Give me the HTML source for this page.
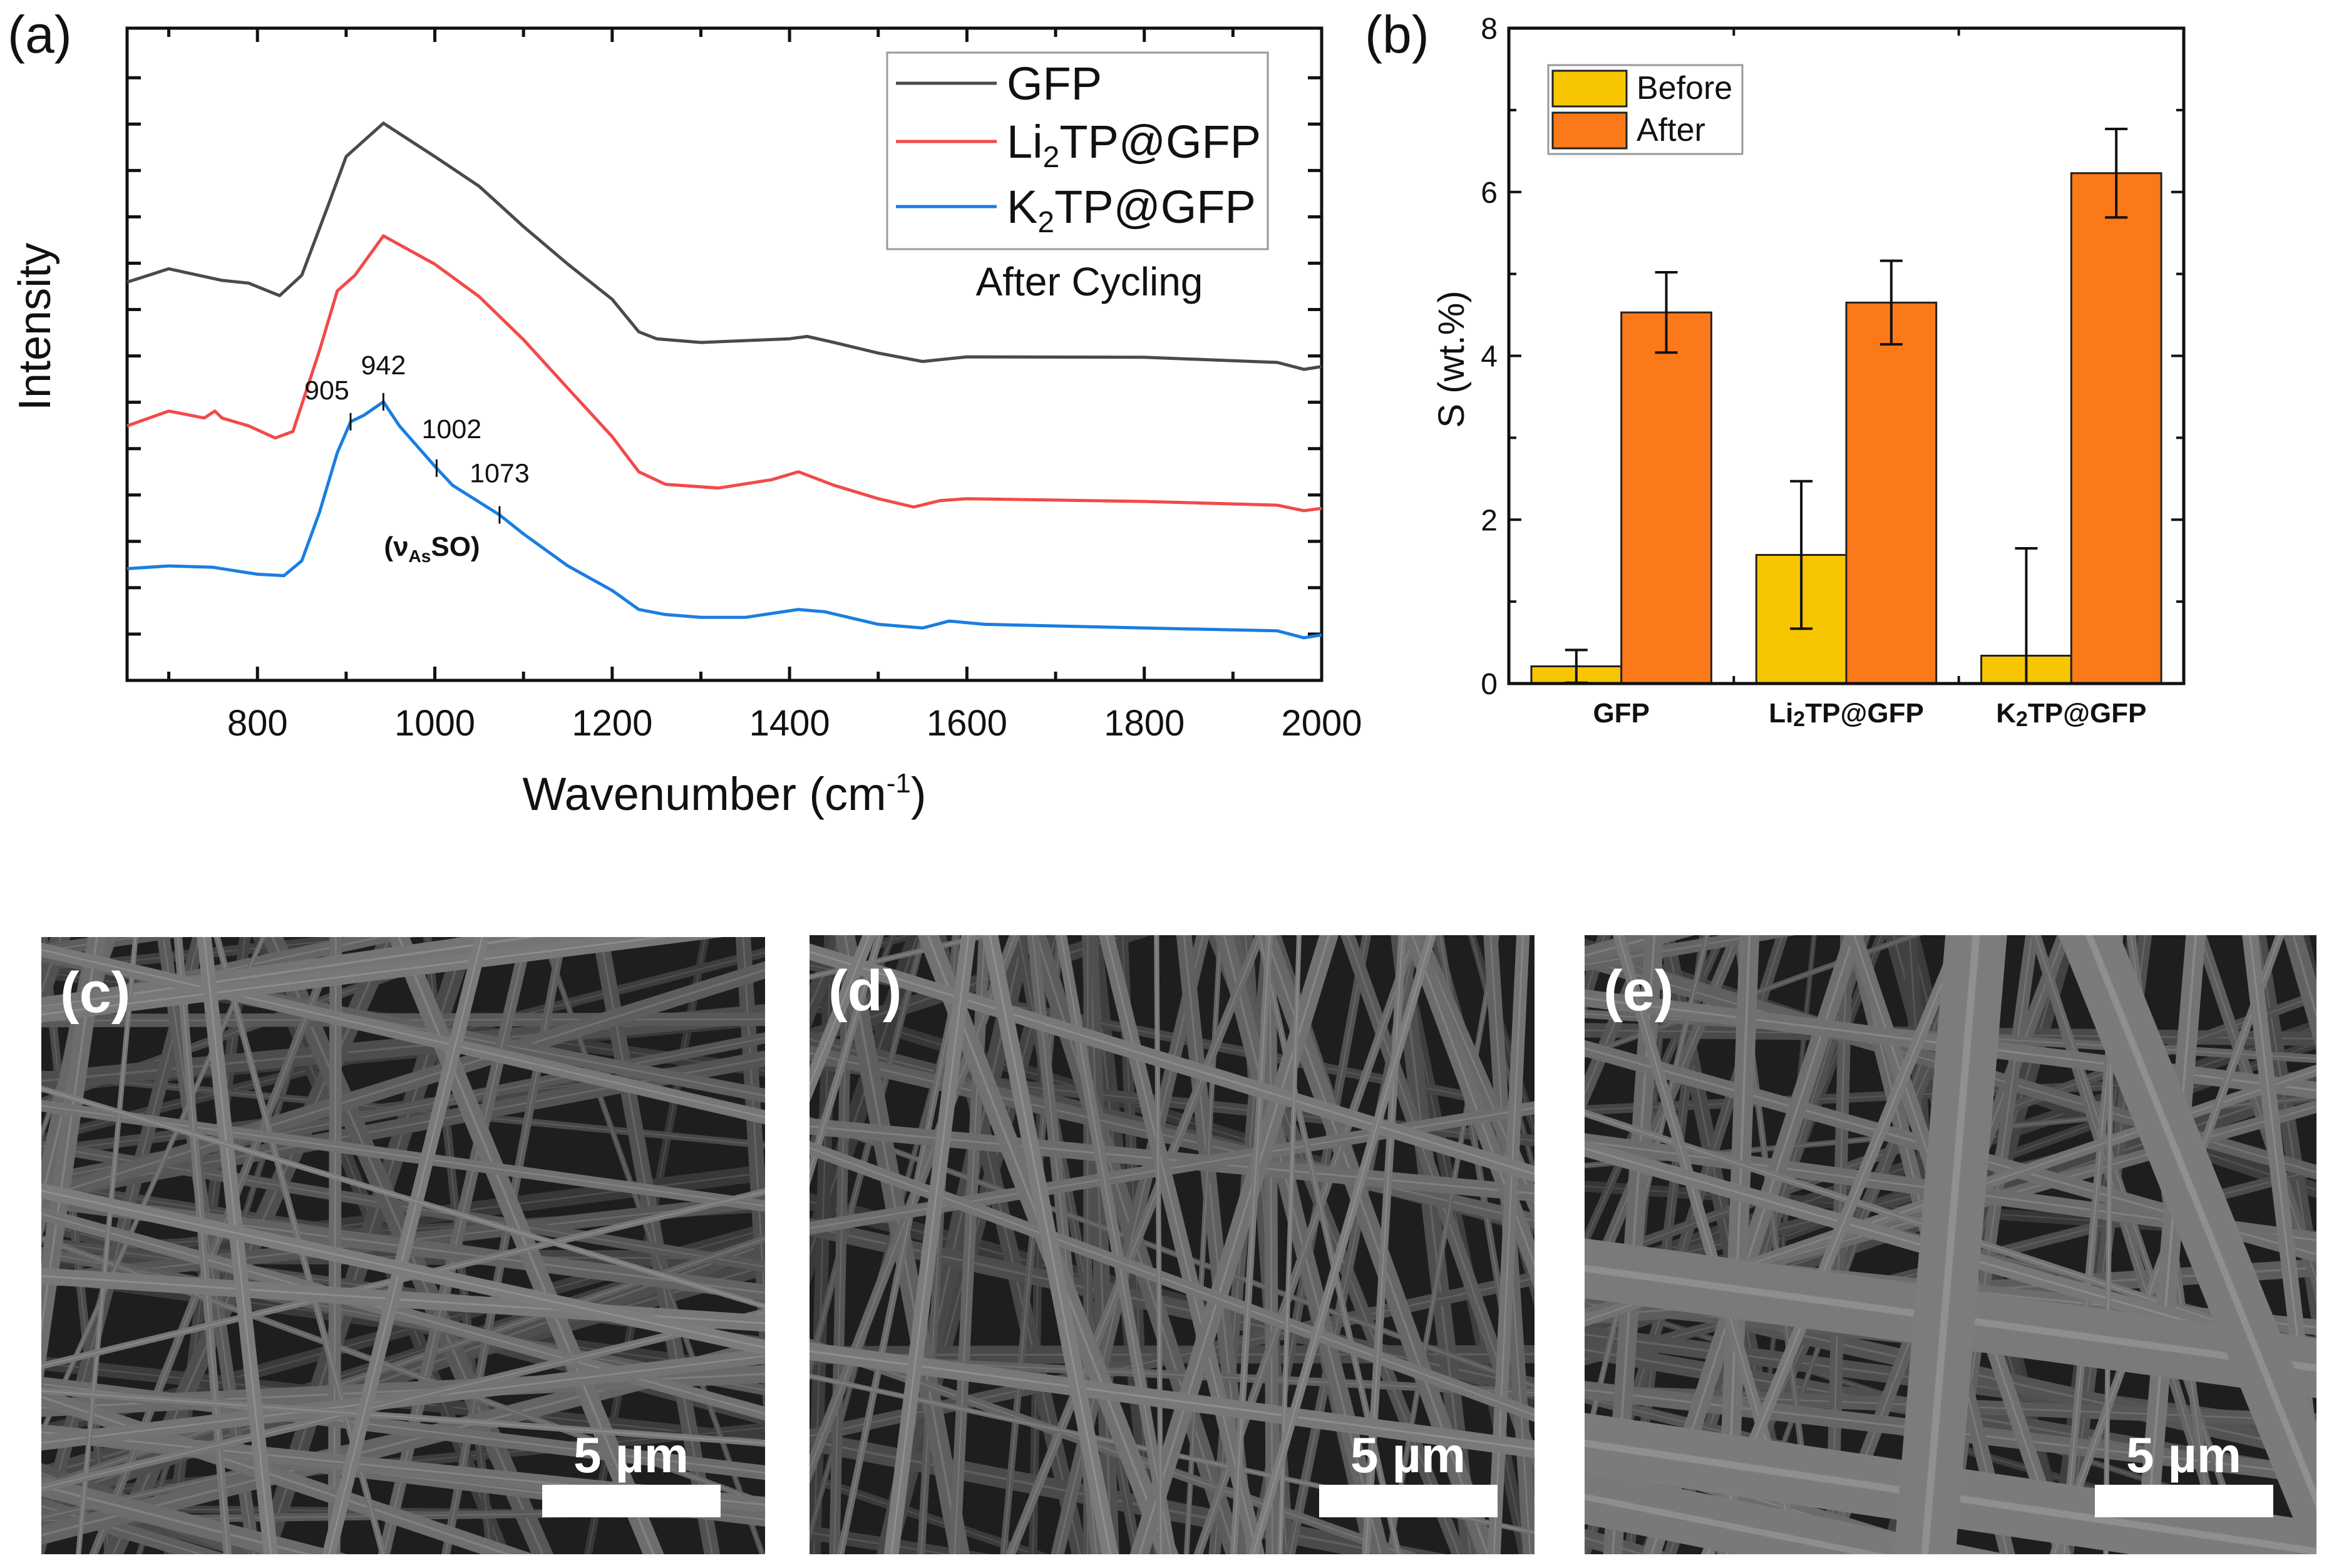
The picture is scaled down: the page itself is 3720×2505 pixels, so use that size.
<!DOCTYPE html>
<html><head><meta charset="utf-8">
<style>
html,body{margin:0;padding:0;background:#fff;overflow:hidden;}
body{width:3720px;height:2505px;position:relative;overflow:hidden;font-family:"Liberation Sans",sans-serif;}
svg{position:absolute;left:0;top:0;overflow:hidden;}
</style></head>
<body>
<svg id="fig" width="3720" height="2505" viewBox="0 0 3720 2505" xmlns="http://www.w3.org/2000/svg">
  <g id="pa"></g>
  <g id="pb"></g>
  <g id="sem"></g>
</svg>
<script>
// ---------- Panel (a) data ----------
const wn = [653,700,760,790,825,850,880,900,942,1000,1050,1100,1150,1200,1230,1250,1300,1400,1420,1450,1500,1550,1600,1800,1950,1980,2000];
const gfpI = [8.59,8.88,8.63,8.57,8.30,8.74,10.26,11.30,12.02,11.30,10.66,9.79,8.98,8.22,7.52,7.37,7.29,7.37,7.42,7.29,7.06,6.88,6.98,6.97,6.86,6.71,6.77];
const wnLi = [653,700,740,752,760,790,820,840,870,890,910,942,1000,1050,1100,1150,1200,1230,1260,1320,1380,1410,1450,1500,1540,1570,1600,1800,1950,1980,2000];
const liI = [5.49,5.81,5.66,5.81,5.66,5.49,5.23,5.37,7.12,8.40,8.74,9.59,8.98,8.28,7.35,6.30,5.26,4.50,4.23,4.15,4.33,4.50,4.21,3.92,3.74,3.88,3.92,3.86,3.78,3.66,3.71];
const wnK = [653,700,750,780,800,830,850,870,890,905,920,942,960,1000,1020,1073,1100,1150,1200,1230,1260,1300,1350,1410,1440,1500,1550,1580,1620,1800,1950,1980,2000];
const kI = [2.41,2.47,2.44,2.35,2.29,2.26,2.58,3.63,4.91,5.58,5.72,6.01,5.49,4.62,4.21,3.57,3.16,2.47,1.94,1.53,1.42,1.36,1.36,1.53,1.48,1.21,1.13,1.28,1.21,1.13,1.07,0.92,0.98];
const peakWn = [905,942,1002,1073];
const xTicks = [800,1000,1200,1400,1600,1800,2000];

// ---------- Panel (b) data ----------
const cats = ["GFP","Li2TP@GFP","K2TP@GFP"];
const before = [0.21,1.57,0.34];
const beforeErr = [0.20,0.90,1.31];
const after = [4.53,4.65,6.23];
const afterErr = [0.49,0.51,0.54];
const bTicks = [0,2,4,6,8];

const NS="http://www.w3.org/2000/svg";
function mk(parent,tag,attrs,text){const e=document.createElementNS(NS,tag);for(const k in attrs)e.setAttribute(k,attrs[k]);if(text!==undefined)e.textContent=text;parent.appendChild(e);return e;}

// ===== Panel a =====
const pa=document.getElementById('pa');
const A={l:203,r:2111,t:45,b:1087,x0:653,x1:2000,y0:0,y1:14.07};
const ax=v=>A.l+(v-A.x0)/(A.x1-A.x0)*(A.r-A.l);
const ay=v=>A.b-(v-A.y0)/(A.y1-A.y0)*(A.b-A.t);
let fr=mk(pa,'rect',{x:A.l,y:A.t,width:A.r-A.l,height:A.b-A.t,fill:'none',stroke:'#111','stroke-width':5});

for(let v=700;v<=2000;v+=100){
  const x=ax(v);const L=v%200===0?22:14;
  let t1=mk(pa,'line',{x1:x,y1:A.b,x2:x,y2:A.b-L,stroke:'#111','stroke-width':5});
  
  let t2=mk(pa,'line',{x1:x,y1:A.t,x2:x,y2:A.t+L,stroke:'#111','stroke-width':5});
  
}
xTicks.forEach(v=>{let t=mk(pa,'text',{x:ax(v),y:1175,'font-size':58,'text-anchor':'middle',fill:'#111'},String(v));
  });
for(let v=1;v<=13;v++){
  const y=ay(v);
  let t1=mk(pa,'line',{x1:A.l,y1:y,x2:A.l+22,y2:y,stroke:'#111','stroke-width':5});
  
  let t2=mk(pa,'line',{x1:A.r,y1:y,x2:A.r-22,y2:y,stroke:'#111','stroke-width':5});
  
}
function curve(xs,ys,color,name){
  let d=xs.map((x,i)=>(i?'L':'M')+ax(x).toFixed(1)+','+ay(ys[i]).toFixed(1)).join(' ');
  let p=mk(pa,'path',{d:d,fill:'none',stroke:color,'stroke-width':5,'stroke-linejoin':'round'});
  
}
curve(wn,gfpI,'#4a4a4a','gfp-spectrum');
curve(wnLi,liI,'#f24a4a','li2tp-spectrum');
curve(wnK,kI,'#1a7ee0','k2tp-spectrum');
function interp(xs,ys,x){for(let i=1;i<xs.length;i++){if(x<=xs[i]){const f=(x-xs[i-1])/(xs[i]-xs[i-1]);return ys[i-1]+f*(ys[i]-ys[i-1]);}}return ys[ys.length-1];}
const lblOff=[[-38,-36],[0,-44],[24,-48],[0,-52]];
peakWn.forEach((w,i)=>{
  const x=ax(w),y=ay(interp(wnK,kI,w));
  let m=mk(pa,'line',{x1:x,y1:y-14,x2:x,y2:y+14,stroke:'#111','stroke-width':3});
  
  let t=mk(pa,'text',{x:x+lblOff[i][0],y:y+lblOff[i][1],'font-size':43,'text-anchor':'middle',fill:'#111'},String(w));
  
});
let nu=mk(pa,'text',{x:690,y:888,'font-size':44,'font-weight':'bold','text-anchor':'middle',fill:'#111'});

nu.innerHTML='(ν<tspan font-size="28" dy="10">As</tspan><tspan dy="-10">SO)</tspan>';
let xt=mk(pa,'text',{x:1157,y:1294,'font-size':74,'text-anchor':'middle',fill:'#111'});

xt.innerHTML='Wavenumber (cm<tspan font-size="44" dy="-28">-1</tspan><tspan dy="28">)</tspan>';
let yt=mk(pa,'text',{x:0,y:0,'font-size':72,'text-anchor':'middle',fill:'#111',transform:'translate(80,522) rotate(-90)'},'Intensity');

let la=mk(pa,'text',{x:12,y:84,'font-size':84,fill:'#111'},'(a)');

let lg=mk(pa,'g',{});
mk(lg,'rect',{x:1417,y:84,width:608,height:314,fill:'#fff',stroke:'#999','stroke-width':3});
[['GFP','#4a4a4a',133],['Li|2|TP@GFP','#f24a4a',226],['K|2|TP@GFP','#1a7ee0',330]].forEach(([s,c,y])=>{
  let g=mk(lg,'g',{});
  mk(g,'line',{x1:1431,y1:y,x2:1592,y2:y,stroke:c,'stroke-width':5});
  const t=mk(g,'text',{x:1608,y:y+26,'font-size':74,fill:'#111'});
  const p=s.split('|');
  t.innerHTML=p.length>1?p[0]+'<tspan font-size="48" dy="15">'+p[1]+'</tspan><tspan dy="-15">'+p[2]+'</tspan>':s;
});
let ac=mk(pa,'text',{x:1740,y:472,'font-size':64,'text-anchor':'middle',fill:'#111'},'After Cycling');


// ===== Panel b =====
const pb=document.getElementById('pb');
const B={l:2410,r:3488,t:45,b:1092,ymax:8};
const by=v=>B.b-v/B.ymax*(B.b-B.t);
const band=(B.r-B.l)/cats.length;
const bw=band*0.4;
const bc=i=>B.l+band*(i+0.5);
function bar(x,v,color,name){let r=mk(pb,'rect',{x:x,y:by(v),width:bw,height:B.b-by(v),fill:color,stroke:'#222','stroke-width':3});
  }
function err(x,v,e,name){const y1=by(v+e),y2=by(Math.max(0,v-e));
  let g=mk(pb,'g',{stroke:'#111','stroke-width':4});
  mk(g,'line',{x1:x,y1:y1,x2:x,y2:y2});mk(g,'line',{x1:x-18,y1:y1,x2:x+18,y2:y1});mk(g,'line',{x1:x-18,y1:y2,x2:x+18,y2:y2});}
cats.forEach((c,i)=>{
  bar(bc(i)-bw,before[i],'#f7c600','bar-before-'+i);
  bar(bc(i),after[i],'#fb7918','bar-after-'+i);
  err(bc(i)-bw/2,before[i],beforeErr[i],'errorbar-before');
  err(bc(i)+bw/2,after[i],afterErr[i],'errorbar-after');
  const t=mk(pb,'text',{x:bc(i),y:1154,'font-size':44,'font-weight':'bold','text-anchor':'middle',fill:'#111'});
  
  t.innerHTML=c.replace('2','<tspan font-size="34" dy="6">2</tspan><tspan dy="-6">')+'</tspan>';
});
let fb=mk(pb,'rect',{x:B.l,y:B.t,width:B.r-B.l,height:B.b-B.t,fill:'none',stroke:'#111','stroke-width':5});

for(let v=1;v<8;v++){const y=by(v),L=v%2?12:20;
  let t1=mk(pb,'line',{x1:B.l,y1:y,x2:B.l+L,y2:y,stroke:'#111','stroke-width':4});
  let t2=mk(pb,'line',{x1:B.r,y1:y,x2:B.r-L,y2:y,stroke:'#111','stroke-width':4});}
for(let i=1;i<cats.length;i++){const x=B.l+band*i;
  let t1=mk(pb,'line',{x1:x,y1:B.b,x2:x,y2:B.b-12,stroke:'#111','stroke-width':4});
  let t2=mk(pb,'line',{x1:x,y1:B.t,x2:x,y2:B.t+12,stroke:'#111','stroke-width':4});}
bTicks.forEach(v=>{let t=mk(pb,'text',{x:2392,y:by(v)+17,'font-size':48,'text-anchor':'end',fill:'#111'},String(v));
  });
let ybt=mk(pb,'text',{x:0,y:0,'font-size':58,'text-anchor':'middle',fill:'#111',transform:'translate(2338,574) rotate(-90)'},'S (wt.%)');

let lbb=mk(pb,'text',{x:2180,y:84,'font-size':84,fill:'#111'},'(b)');

let lgb=mk(pb,'g',{});
mk(lgb,'rect',{x:2473,y:104,width:310,height:142,fill:'#fff',stroke:'#999','stroke-width':3});
[['Before','#f7c600',113],['After','#fb7918',180]].forEach(([s,c,y])=>{
  let g=mk(lgb,'g',{});
  mk(g,'rect',{x:2480,y:y,width:118,height:57,fill:c,stroke:'#222','stroke-width':3});
  mk(g,'text',{x:2614,y:y+45,'font-size':52,fill:'#111'},s);
});

// ===== SEM panels (decorative fiber texture) =====
const sem=document.getElementById('sem');
const panels=[{x:66,y:1497,w:1156,h:986,lab:'(c)',sb:866},{x:1293,y:1494,w:1158,h:989,lab:'(d)',sb:2107},{x:2531,y:1494,w:1169,h:989,lab:'(e)',sb:3346}];
let seed=7;const rnd=()=>{seed=(seed*16807)%2147483647;return seed/2147483647;};
panels.forEach((P,k)=>{
  let g=mk(sem,'g',{});
  const cid='clip'+k;const cp=mk(g,'clipPath',{id:cid});mk(cp,'rect',{x:P.x,y:P.y,width:P.w,height:P.h});
  mk(g,'rect',{x:P.x,y:P.y,width:P.w,height:P.h,fill:'#1e1e1e'});
  const fg=mk(g,'g',{'clip-path':'url(#'+cid+')'});
  for(let i=0;i<90;i++){
    const vertical=(k===1)?rnd()<0.75:rnd()<0.5;
    let x1,y1,x2,y2;
    if(vertical){x1=P.x+rnd()*P.w;x2=x1+(rnd()-0.5)*P.w*0.8;y1=P.y-20;y2=P.y+P.h+20;}
    else{y1=P.y+rnd()*P.h;y2=y1+(rnd()-0.5)*P.h*0.9;x1=P.x-20;x2=P.x+P.w+20;}
    const depth=i/90;const w=(k===2&&i>84)?70+rnd()*30:8+rnd()*24;
    const c=Math.round(55+depth*70);
    mk(fg,'line',{x1:x1,y1:y1,x2:x2,y2:y2,stroke:`rgb(${c},${c},${c})`,'stroke-width':w,'stroke-linecap':'round'});
    const c2=Math.min(200,c+40);
    mk(fg,'line',{x1:x1,y1:y1,x2:x2,y2:y2,stroke:`rgb(${c2},${c2},${c2})`,'stroke-width':Math.max(2,w*0.12),'stroke-opacity':0.5});
  }
  let t=mk(g,'text',{x:P.x+30,y:P.y+120,'font-size':92,'font-weight':'bold',fill:'#fff'},P.lab);
  
  let sb=mk(g,'rect',{x:P.sb,y:2372,width:285,height:52,fill:'#fff'});
  
  let st=mk(g,'text',{x:P.sb+142,y:2352,'font-size':80,'font-weight':'bold','text-anchor':'middle',fill:'#fff'},'5 µm');
  
});
</script>
</body></html>
